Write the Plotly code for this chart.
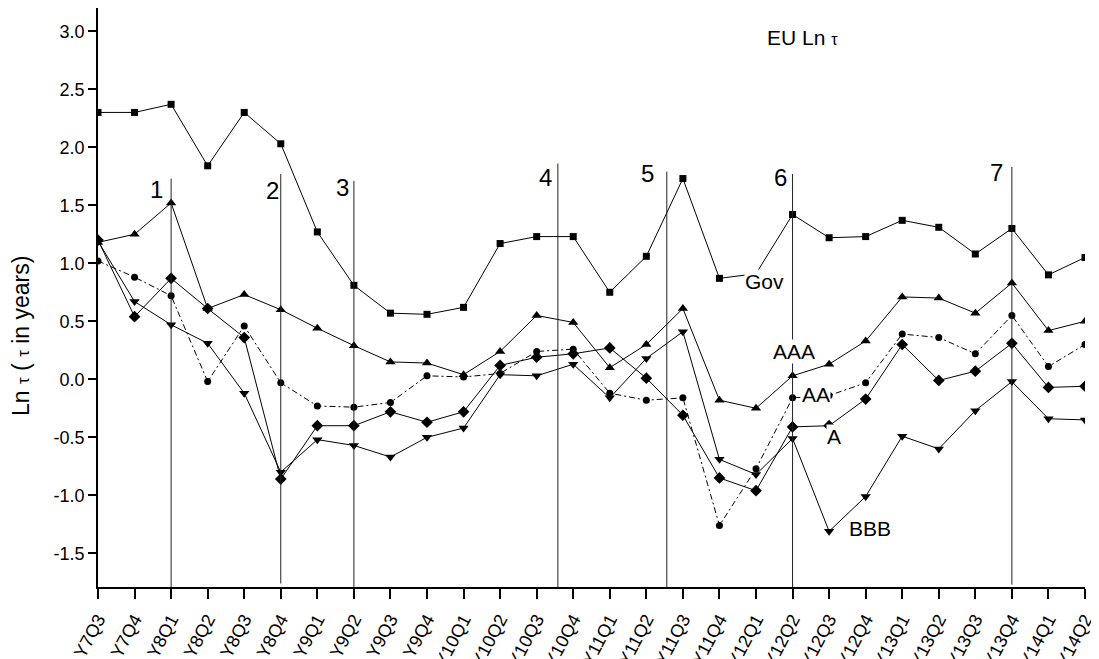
import plotly.graph_objects as go

quarters = ["Y7Q3", "Y7Q4", "Y8Q1", "Y8Q2", "Y8Q3", "Y8Q4", "Y9Q1", "Y9Q2", "Y9Q3", "Y9Q4",
            "Y10Q1", "Y10Q2", "Y10Q3", "Y10Q4", "Y11Q1", "Y11Q2", "Y11Q3", "Y11Q4", "Y12Q1", "Y12Q2",
            "Y12Q3", "Y12Q4", "Y13Q1", "Y13Q2", "Y13Q3", "Y13Q4", "Y14Q1", "Y14Q2"]

gov = [2.30, 2.30, 2.37, 1.84, 2.30, 2.03, 1.27, 0.81, 0.57, 0.56,
       0.62, 1.17, 1.23, 1.23, 0.75, 1.06, 1.73, 0.87, 0.91, 1.42,
       1.22, 1.23, 1.37, 1.31, 1.08, 1.30, 0.90, 1.05]
aaa = [1.18, 1.25, 1.52, 0.61, 0.73, 0.60, 0.44, 0.29, 0.15, 0.14,
       0.04, 0.24, 0.55, 0.49, 0.10, 0.30, 0.61, -0.18, -0.25, 0.03,
       0.13, 0.33, 0.71, 0.70, 0.57, 0.83, 0.42, 0.50]
aa = [1.02, 0.88, 0.72, -0.02, 0.46, -0.03, -0.23, -0.24, -0.20, 0.03,
      0.02, 0.05, 0.24, 0.26, -0.12, -0.18, -0.16, -1.26, -0.77, -0.16,
      -0.14, -0.03, 0.39, 0.36, 0.22, 0.55, 0.11, 0.30]
a_rated = [1.20, 0.54, 0.87, 0.61, 0.36, -0.86, -0.40, -0.40, -0.28, -0.37,
           -0.28, 0.12, 0.19, 0.22, 0.27, 0.01, -0.31, -0.85, -0.96, -0.41,
           -0.40, -0.17, 0.30, -0.01, 0.07, 0.31, -0.07, -0.06]
bbb = [1.19, 0.67, 0.47, 0.31, -0.12, -0.80, -0.52, -0.57, -0.67, -0.50,
       -0.42, 0.04, 0.03, 0.13, -0.16, 0.18, 0.41, -0.69, -0.82, -0.51,
       -1.31, -1.01, -0.49, -0.60, -0.27, -0.02, -0.34, -0.35]

y_tick_vals = [-1.5, -1.0, -0.5, 0.0, 0.5, 1.0, 1.5, 2.0, 2.5, 3.0]
y_tick_text = ["-1.5", "-1.0", "-0.5", "0.0", "0.5", "1.0", "1.5", "2.0", "2.5", "3.0"]

event_names = ["1", "2", "3", "4", "5", "6", "7"]
event_x = [2, 5, 7, 12.58, 15.56, 19, 25]
event_top = [1.73, 1.77, 1.71, 1.86, 1.79, 1.77, 1.83]
event_bottom = [-1.79, -1.76, -1.79, -1.79, -1.79, -1.79, -1.77]

xi = list(range(len(quarters)))

series = [
    ("Gov", gov, "square", 7, "solid"),
    ("AAA", aaa, "triangle-up", 9, "solid"),
    ("AA", aa, "circle", 7, "6px,3px,2px,3px"),
    ("A", a_rated, "diamond", 9, "solid"),
    ("BBB", bbb, "triangle-down", 9, "solid"),
]

fig = go.Figure()
for name, vals, sym, sz, dash in series:
    fig.add_trace(go.Scatter(
        x=xi, y=vals, mode="lines+markers", name=name,
        line=dict(color="black", width=1, dash=dash),
        marker=dict(symbol=sym, size=sz, color="black"),
        showlegend=False,
    ))

for xv, top, bot in zip(event_x, event_top, event_bottom):
    fig.add_shape(type="line", xref="x", yref="y", x0=xv, x1=xv, y0=bot, y1=top,
                  line=dict(color="#222", width=1), layer="above")

FONT = "Liberation Sans, Arial, sans-serif"

# event number labels (offset to the left of each line top)
num_pos = [(1.59, 1.64), (4.76, 1.63), (6.70, 1.65), (12.25, 1.74),
           (15.02, 1.77), (18.68, 1.74), (24.59, 1.78)]
for name, (px, py) in zip(event_names, num_pos):
    fig.add_annotation(x=px, y=py, xref="x", yref="y", text=name, showarrow=False,
                       font=dict(size=24, color="black", family=FONT))

series_labels = [("Gov", 18.24, 0.845), ("AAA", 19.04, 0.24), ("AA", 19.64, -0.13),
                 ("A", 20.13, -0.49), ("BBB", 21.12, -1.29)]
for txt, px, py in series_labels:
    fig.add_annotation(x=px, y=py, xref="x", yref="y", text=txt, showarrow=False,
                       font=dict(size=21, color="black", family=FONT),
                       bgcolor="white", borderpad=0)

fig.add_annotation(x=19.26, y=2.95, xref="x", yref="y",
                   text="EU Ln <span style='font-size:16px'>τ</span>", showarrow=False,
                   font=dict(size=21, color="black", family=FONT))

fig.add_annotation(x=-0.078, y=0.4335, xref="paper", yref="paper", textangle=-90,
                   xanchor="center", yanchor="middle",
                   text="Ln <span style='font-size:17px'>τ</span> ( <span style='font-size:17px'>τ</span> in years)",
                   showarrow=False, font=dict(size=23, color="black", family=FONT))

# page body has an 8px margin, so the figure is shifted by 8px; compensate
fig.update_layout(
    width=1091, height=651,
    template="none",
    paper_bgcolor="white", plot_bgcolor="white",
    margin=dict(l=90, r=14, t=0, b=72),
    font=dict(family=FONT, color="black"),
    showlegend=False,
)
fig.update_xaxes(
    range=[0, 27], tickmode="array", tickvals=xi, ticktext=quarters,
    tickangle=-62, ticks="outside", ticklen=10, tickwidth=1.5, tickcolor="black",
    ticklabelstandoff=3,
    showline=True, linecolor="black", linewidth=1.5, showgrid=False, zeroline=False,
    tickfont=dict(size=18, family=FONT, color="black"), automargin=False,
)
fig.update_yaxes(
    range=[-1.79, 3.20], tickmode="array",
    tickvals=y_tick_vals, ticktext=y_tick_text,
    ticks="outside", ticklen=8, tickwidth=1.5, tickcolor="black",
    showline=True, linecolor="black", linewidth=1.5, showgrid=False, zeroline=False,
    tickfont=dict(size=18, family=FONT, color="black"), automargin=False,
)

fig.write_html("out.html")
